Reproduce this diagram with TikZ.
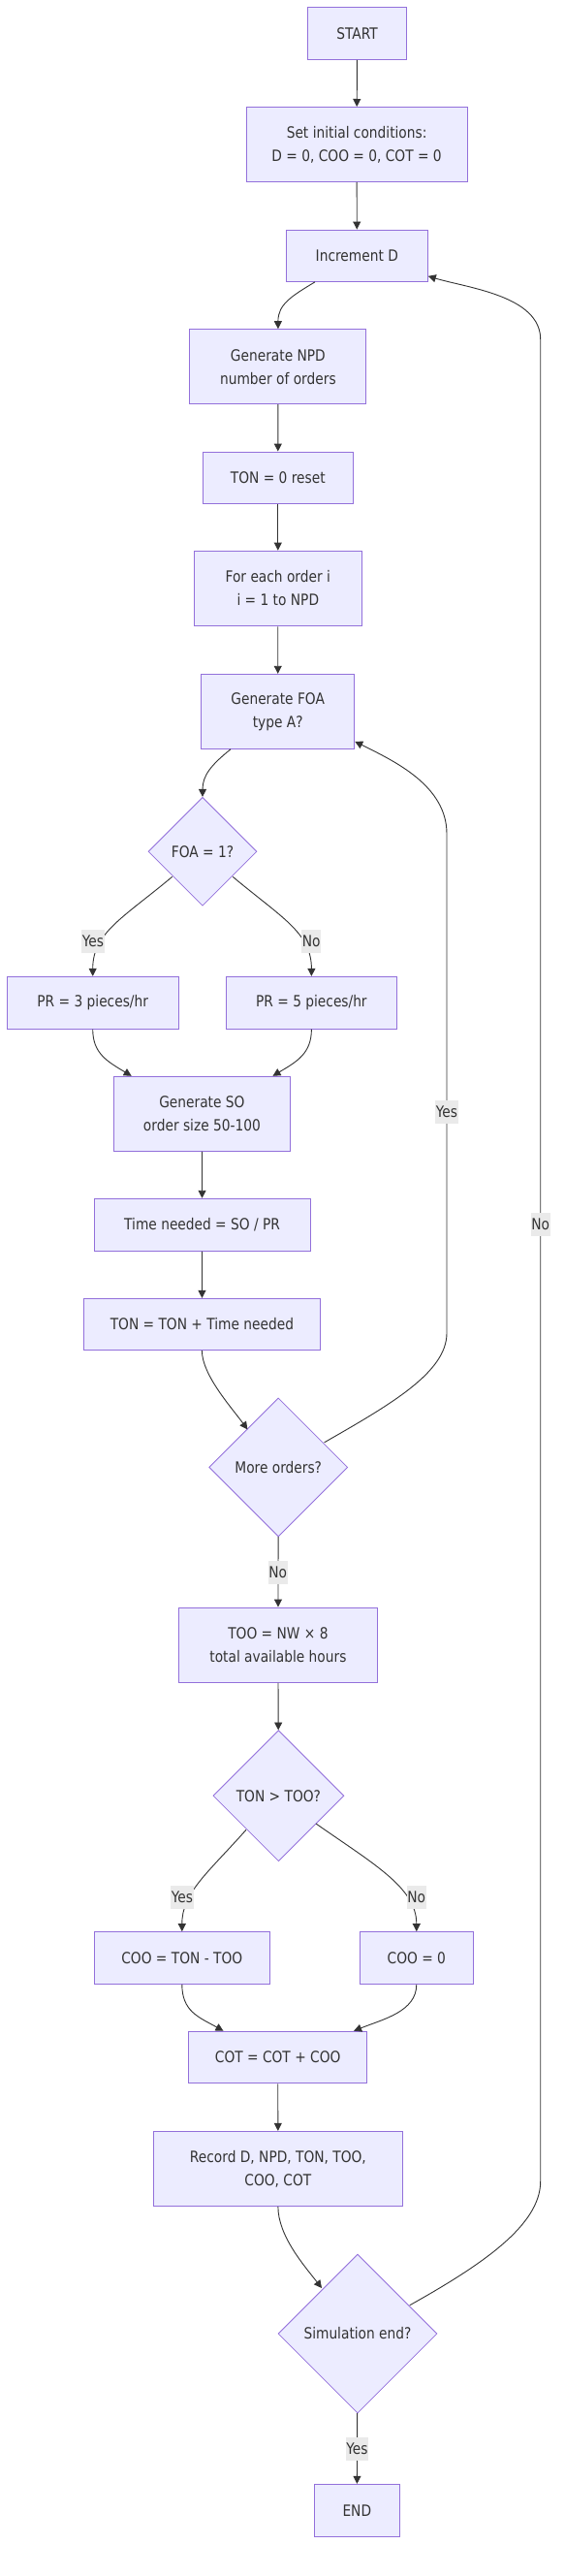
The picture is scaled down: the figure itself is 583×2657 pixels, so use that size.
\documentclass[tikz,border=0pt]{standalone}
\usepackage{fontspec}
\setmainfont{DejaVu Sans}[FakeStretch=0.86]
\usetikzlibrary{shapes.geometric,arrows.meta,calc}
\definecolor{nodefill}{HTML}{ECECFF}
\definecolor{nodeline}{HTML}{9370DB}
\definecolor{edgecol}{HTML}{333333}
\definecolor{txt}{HTML}{333333}
\definecolor{lblbg}{HTML}{EAEAEA}
\tikzset{
  box/.style={draw=nodeline, fill=nodefill, line width=1pt, inner sep=0pt, align=center, text=txt, font=\fontsize{16}{24}\selectfont},
  dia/.style={diamond, aspect=1, draw=nodeline, fill=nodefill, line width=0.8pt, inner sep=0pt, align=center, text=txt, font=\fontsize{16}{24}\selectfont},
  edge/.style={draw=edgecol, line width=0.9pt, -{Triangle[length=8pt,width=8pt]}},
  lbl/.style={fill=lblbg, text=txt, inner xsep=0.5pt, inner ysep=0pt, minimum height=24pt, font=\fontsize{16}{24}\selectfont},
}
\begin{document}
\begin{tikzpicture}[x=1pt,y=-1pt]
\useasboundingbox (0,0) rectangle (583,2657);
% nodes
\node[box, minimum width=102pt, minimum height=54pt] (start) at (368.5,34.3) {START};
\node[box, minimum width=228pt, minimum height=77pt] (init) at (368.1,149) {Set initial conditions:\\D = 0, COO = 0, COT = 0};
\node[box, minimum width=146pt, minimum height=53.3pt] (incD) at (368.3,263.7) {Increment D};
\node[box, minimum width=182pt, minimum height=77pt] (npd) at (286.9,378.2) {Generate NPD\\number of orders};
\node[box, minimum width=155pt, minimum height=53.3pt] (ton0) at (286.8,492.7) {TON = 0 reset};
\node[box, minimum width=173pt, minimum height=77.7pt] (foreach) at (286.8,607) {For each order i\\i = 1 to NPD};
\node[box, minimum width=158pt, minimum height=77pt] (genfoa) at (286.7,733.8) {Generate FOA\\type A?};
\node[dia, minimum width=112pt, minimum height=112pt] (foa) at (209,878.3) {FOA = 1?};
\node[box, minimum width=176.6pt, minimum height=53.7pt] (pr3) at (95.7,1034.2) {PR = 3 pieces/hr};
\node[box, minimum width=176.6pt, minimum height=53.7pt] (pr5) at (321.4,1034.2) {PR = 5 pieces/hr};
\node[box, minimum width=182pt, minimum height=77pt] (so) at (208.4,1148.8) {Generate SO\\order size 50-100};
\node[box, minimum width=223pt, minimum height=54pt] (time) at (208.6,1263.3) {Time needed = SO / PR};
\node[box, minimum width=244pt, minimum height=53.3pt] (tonadd) at (208.4,1366) {TON = TON + Time needed};
\node[dia, minimum width=143pt, minimum height=143pt] (more) at (287.2,1513.4) {More orders?};
\node[box, minimum width=205pt, minimum height=77.3pt] (too) at (286.9,1696.7) {TOO = NW × 8\\total available hours};
\node[dia, minimum width=135pt, minimum height=135pt] (tontoo) at (287.4,1852.2) {TON > TOO?};
\node[box, minimum width=181.5pt, minimum height=53.7pt] (coo1) at (187.8,2019.5) {COO = TON - TOO};
\node[box, minimum width=116.8pt, minimum height=53.7pt] (coo0) at (429.8,2019.5) {COO = 0};
\node[box, minimum width=183.7pt, minimum height=53.5pt] (cot) at (286.7,2122) {COT = COT + COO};
\node[box, minimum width=257pt, minimum height=77.3pt] (record) at (286.9,2237) {Record D, NPD, TON, TOO,\\COO, COT};
\node[dia, minimum width=164pt, minimum height=164pt] (sim) at (369,2407) {Simulation end?};
\node[box, minimum width=88pt, minimum height=53.7pt] (end) at (368.3,2589.2) {END};
% lane coordinates
\coordinate (yesTop) at (461,860);
\coordinate (yesBot) at (461,1375);
\coordinate (noTop) at (557.7,350);
\coordinate (noBot) at (557.7,2250);
% edges
\draw[edge] (start) -- (init);
\draw[edge] (init) -- (incD);
\draw[edge] ($(incD.south)+(-43.3,0)$) .. controls +(-25,15) and +(0,-25) .. (npd.north);
\draw[edge] (npd) -- (ton0);
\draw[edge] (ton0) -- (foreach);
\draw[edge] (foreach) -- (genfoa);
\draw[edge] ($(genfoa.south)+(-48.7,0)$) .. controls +(-20,16) and +(0,-22) .. (foa.north);
\draw[edge] ($(foa)+(-31.3,26)$) .. controls +(-50,42) and +(0,-45) .. (pr3.north);
\draw[edge] ($(foa)+(31.2,26)$) .. controls +(50,42) and +(0,-45) .. (pr5.north);
\draw[edge] (pr3.south) .. controls +(0,25) and +(-25,-15) .. ($(so.north)+(-72.7,0)$);
\draw[edge] (pr5.south) .. controls +(0,25) and +(25,-15) .. ($(so.north)+(73.1,0)$);
\draw[edge] (so) -- (time);
\draw[edge] (time) -- (tonadd);
\draw[edge] (tonadd.south) .. controls +(0,25) and +(-16,-22) .. ($(more)+(-31.8,-39)$);
\draw[edge] ($(more)+(47.4,-25.6)$) .. controls +(70,-40) and +(0,40) .. (yesBot) -- (yesTop) .. controls +(0,-50) and +(40,20) .. ($(genfoa.south east)+(0,-8)$);
\draw[edge] (more) -- (too);
\draw[edge] (too) -- (tontoo);
\draw[edge] ($(tontoo)+(-33.4,35.1)$) .. controls +(-40,45) and +(0,-40) .. (coo1.north);
\draw[edge] ($(tontoo)+(38.7,28.8)$) .. controls +(60,42) and +(0,-45) .. (coo0.north);
\draw[edge] (coo1.south) .. controls +(0,28) and +(-25,-14) .. ($(cot.north)+(-56.2,0)$);
\draw[edge] (coo0.south) .. controls +(0,28) and +(30,-12) .. ($(cot.north)+(78.4,0)$);
\draw[edge] (cot) -- (record);
\draw[edge] (record.south) .. controls +(0,30) and +(-18,-23) .. ($(sim)+(-37,-47)$);
\draw[edge] ($(sim)+(53.8,-29.3)$) .. controls +(75,-42) and +(0,45) .. (noBot) -- (noTop) .. controls +(0,-45) and +(40,12) .. ($(incD.south east)+(0,-6)$);
\draw[edge] (sim) -- (end);
% edge labels
\node[lbl] (lfoayes) at (95.9,970.7) {Yes};
\node[lbl] (lfoano) at (321.2,970.7) {No};
\node[lbl] (lmoreyes) at (461,1147) {Yes};
\node[lbl] (lmoreno) at (286.7,1621.8) {No};
\node[lbl] (lsimno) at (557.7,1263) {No};
\node[lbl] (lttyes) at (188,1956.7) {Yes};
\node[lbl] (lttno) at (429.8,1956.7) {No};
\node[lbl] (lsimyes) at (368.5,2526) {Yes};
\end{tikzpicture}
\end{document}
